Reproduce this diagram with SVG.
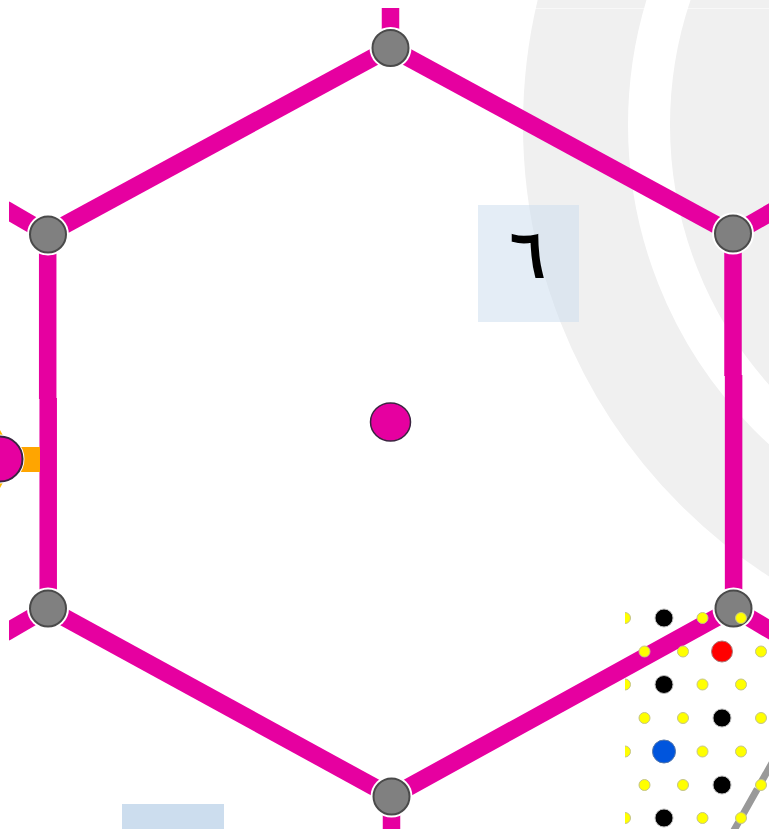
<svg xmlns="http://www.w3.org/2000/svg" width="769" height="829" viewBox="0 0 769 829">
<style>
.e{stroke:#e600a0;stroke-width:17.5;fill:none}
.n{fill:#808080;stroke:#4a4a4a;stroke-width:2}
.h{fill:#fff}
.y{fill:#ffff00;stroke:#c4c48a;stroke-width:1}
.k{fill:#000;stroke:#bbb;stroke-width:1}
.r{fill:none;stroke:#f0f0f0}
</style>
<defs>
<clipPath id="page"><rect x="9" y="8" width="760" height="821"/></clipPath>
<clipPath id="lat"><rect x="625" y="600" width="144" height="229"/></clipPath>
</defs>
<rect width="769" height="829" fill="#fff"/>
<g id="rings">
<circle class="r" cx="1060" cy="125" r="484.500" stroke-width="105"/>
<circle class="r" cx="1060" cy="125" r="280" stroke-width="220"/>
<path d="M530 8.500H769" stroke="#fff" stroke-opacity="0.5" stroke-width="1"/>
</g>
<g id="label-box"><rect x="478" y="205" width="101" height="117" fill="#ccddee" fill-opacity="0.52"/>
<text x="527.500" y="276.500" font-family="'Liberation Serif',serif" font-size="66" text-anchor="middle" fill="#000" stroke="#000" stroke-width="2">٦</text></g>
<rect id="bottom-box" x="122" y="804" width="102" height="25" fill="#ccddee"/>
<g id="connectors" clip-path="url(#page)">
<path class="e" d="M390.500 48L733 234"/>
<path class="e" d="M390.500 48L48 234"/>
<path class="e" d="M391.500 796.500L48 608.500"/>
<path class="e" d="M391.500 796.500L733 608.500"/>
<path class="e" d="M47.700 234V399"/>
<path class="e" d="M48.200 398V608"/>
<path class="e" d="M733 234V376"/>
<path class="e" d="M733.600 375V608"/>
<path class="e" d="M390.500 8V48"/>
<path class="e" d="M391.500 796V829"/>
<path class="e" d="M48 234L5 209"/>
<path class="e" d="M48 608L5 633"/>
<path class="e" d="M733 234L775 210"/>
<path class="e" d="M733 608L775 633"/>
</g>
<g id="left-port">
<rect x="18" y="447" width="22" height="25" fill="#ffa500"/>
<path d="M0 430L3 435.500H0ZM0 488L3 482.500H0Z" fill="#ffb800"/>
<circle cx="0" cy="459" r="24.500" fill="#fff"/>
<circle cx="0" cy="459" r="22.500" fill="#e600a0" stroke="#3a2440" stroke-width="2"/>
</g>
<g id="node-top"><circle class="h" cx="390.500" cy="48" r="21"/><circle class="n" cx="390.500" cy="48" r="18"/></g>
<g id="node-ul"><circle class="h" cx="48" cy="234.500" r="21"/><circle class="n" cx="48" cy="234.500" r="18"/></g>
<g id="node-ur"><circle class="h" cx="733" cy="233.500" r="21"/><circle class="n" cx="733" cy="233.500" r="18"/></g>
<g id="node-ll"><circle class="h" cx="48" cy="608.500" r="21"/><circle class="n" cx="48" cy="608.500" r="18"/></g>
<g id="node-lr"><circle class="h" cx="733.500" cy="608.500" r="21"/><circle class="n" cx="733.500" cy="608.500" r="18"/></g>
<g id="node-bottom"><circle class="h" cx="391.500" cy="796.500" r="21"/><circle class="n" cx="391.500" cy="796.500" r="18"/></g>
<g id="node-center"><ellipse cx="390.500" cy="422" rx="20" ry="19" fill="#e600a0" stroke="#3a2440" stroke-width="1.500"/></g>
<g id="lattice" clip-path="url(#lat)">
<path d="M776 756L733 832" stroke="#999" stroke-width="7" stroke-dasharray="36 2" fill="none"/>
<circle class="y" cx="625" cy="618" r="5.500"/><circle class="k" cx="664" cy="618" r="9"/><circle class="y" cx="702.500" cy="618" r="5.500"/><circle class="y" cx="741" cy="618" r="5.500"/>
<circle class="y" cx="644.500" cy="651.500" r="5.500"/><circle class="y" cx="683" cy="651.500" r="5.500"/><circle cx="722" cy="651.500" r="10.500" fill="#ff0000" stroke="#aa7777"/><circle class="y" cx="761" cy="651.500" r="5.500"/>
<circle class="y" cx="625" cy="684.500" r="5.500"/><circle class="k" cx="664" cy="684.500" r="9"/><circle class="y" cx="702.500" cy="684.500" r="5.500"/><circle class="y" cx="741" cy="684.500" r="5.500"/>
<circle class="y" cx="644.500" cy="718" r="5.500"/><circle class="y" cx="683" cy="718" r="5.500"/><circle class="k" cx="722" cy="718" r="9"/><circle class="y" cx="761" cy="718" r="5.500"/>
<circle class="y" cx="625" cy="751.500" r="5.500"/><circle cx="664" cy="751.500" r="11.500" fill="#0055dd" stroke="#5577aa"/><circle class="y" cx="702.500" cy="751.500" r="5.500"/><circle class="y" cx="741" cy="751.500" r="5.500"/>
<circle class="y" cx="644.500" cy="785" r="5.500"/><circle class="y" cx="683" cy="785" r="5.500"/><circle class="k" cx="722" cy="785" r="9"/><circle class="y" cx="761" cy="785" r="5.500"/>
<circle class="y" cx="625" cy="818" r="5.500"/><circle class="k" cx="664" cy="818" r="9"/><circle class="y" cx="702.500" cy="818" r="5.500"/><circle class="y" cx="741" cy="818" r="5.500"/>
</g>
</svg>
